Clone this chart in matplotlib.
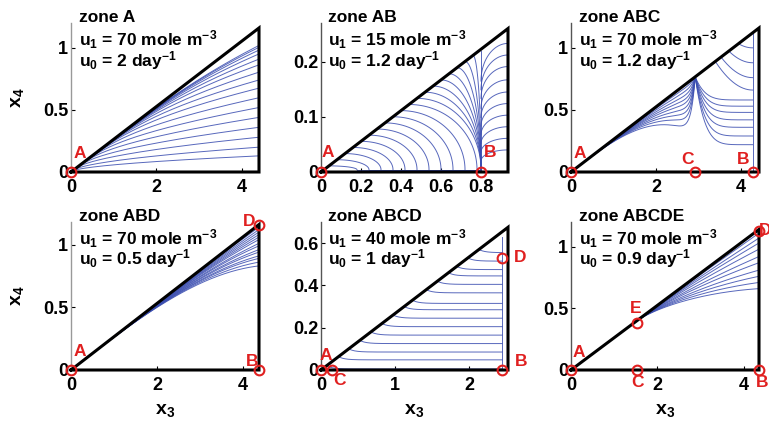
import numpy as np
import matplotlib
matplotlib.use("Agg")
import matplotlib.pyplot as plt

plt.rcParams['font.family'] = ['Liberation Sans', 'DejaVu Sans']
plt.rcParams['mathtext.fontset'] = 'custom'
plt.rcParams['mathtext.rm'] = 'Liberation Sans:bold'
plt.rcParams['mathtext.it'] = 'Liberation Sans:italic:bold'
plt.rcParams['mathtext.bf'] = 'Liberation Sans:bold'

# ---- panel data ----
zones = ["zone A", "zone AB", "zone ABC", "zone ABD", "zone ABCD", "zone ABCDE"]
u1_vals = ["70", "15", "70", "70", "40", "70"]
u0_vals = ["2", "1.2", "1.2", "0.5", "1", "0.9"]

# triangle corner (x3 max, x4 max) per panel
tri_x = [4.4, 0.935, 4.42, 4.37, 2.52, 4.35]
tri_y = [1.16, 0.26, 1.16, 1.16, 0.675, 1.14]

xticks = [[0, 2, 4], [0, 0.2, 0.4, 0.6, 0.8], [0, 2, 4], [0, 2, 4], [0, 1, 2], [0, 2, 4]]
xticklabels = [["0", "2", "4"], ["0", "0.2", "0.4", "0.6", "0.8"], ["0", "2", "4"],
               ["0", "2", "4"], ["0", "1", "2"], ["0", "2", "4"]]
yticks = [[0, 0.5, 1], [0, 0.1, 0.2], [0, 0.5, 1], [0, 0.5, 1], [0, 0.2, 0.4, 0.6], [0, 0.5, 1]]
yticklabels = [["0", "0.5", "1"], ["0", "0.1", "0.2"], ["0", "0.5", "1"],
               ["0", "0.5", "1"], ["0", "0.2", "0.4", "0.6"], ["0", "0.5", "1"]]
ylims = [1.2, 0.27, 1.2, 1.18, 0.70, 1.2]

# equilibrium points: (x, y, label, label_x, label_y)
points = [
    [(0, 0, "A", 0.2, 0.15)],
    [(0, 0, "A", 0.035, 0.035), (0.8, 0, "B", 0.845, 0.035)],
    [(0, 0, "A", 0.2, 0.15), (2.92, 0, "C", 2.75, 0.1), (4.27, 0, "B", 4.05, 0.1)],
    [(0, 0, "A", 0.2, 0.15), (4.37, 1.16, "D", 4.15, 1.18), (4.37, 0, "B", 4.2, 0.07)],
    [(0, 0, "A", 0.06, 0.07), (0.15, 0, "C", 0.25, -0.05),
     (2.44, 0.53, "D", 2.68, 0.53), (2.44, 0, "B", 2.7, 0.04)],
    [(0, 0, "A", 0.18, 0.14), (1.53, 0.38, "E", 1.5, 0.5), (1.53, 0, "C", 1.55, -0.1),
     (4.35, 1.13, "D", 4.5, 1.13), (4.35, 0, "B", 4.43, -0.1)],
]

# trajectory end heights / start points
p1_end = [0.13, 0.20, 0.28, 0.36, 0.44, 0.52, 0.60, 0.68, 0.75, 0.82, 0.89, 0.95,
          1.01, 1.06, 1.10, 1.13]
p2_start = [0.04, 0.08, 0.12, 0.16, 0.20, 0.24, 0.28, 0.32, 0.36, 0.40, 0.44, 0.48,
            0.52, 0.56, 0.60, 0.64, 0.68, 0.72, 0.76]
p2_right = [0.04, 0.061, 0.082, 0.103, 0.124, 0.145, 0.167, 0.191, 0.212, 0.233]
p3_left = [0.40, 0.50, 0.58, 0.65, 0.72, 0.78, 0.84, 0.90, 0.95]
p3_right_low = [0.22, 0.29, 0.36, 0.42, 0.48, 0.53, 0.58]
p3_right_high = [0.66, 0.76, 0.88, 1.0]
p4_end = [1.14, 1.12, 1.10, 1.08, 1.06, 1.04, 1.01, 0.99, 0.96, 0.94, 0.91, 0.89, 0.86, 0.83]
p5_levels = [0.02, 0.063, 0.10, 0.14, 0.18, 0.22, 0.26, 0.30, 0.33, 0.38, 0.42, 0.46,
             0.49, 0.53, 0.57]
p6_end = [1.11, 1.07, 1.03, 0.98, 0.92, 0.87, 0.81, 0.76, 0.71, 0.66]

BLUE = '#3a4db0'
RED = '#e02020'
LW = 0.7

fig = plt.figure(figsize=(7.69, 4.24), dpi=100)
lefts = [71, 321, 571]
widths = [188, 187, 188]
axes = []
for r, (top, h) in enumerate([(23, 149), (222, 148)]):
    for c in range(3):
        ax = fig.add_axes([lefts[c] / 769, 1 - (top + h) / 424, widths[c] / 769, h / 424])
        axes.append(ax)


def softmin(a, b, n=6):
    a = np.maximum(a, 1e-9)
    b = np.maximum(b, 1e-9)
    return (a ** -n + b ** -n) ** (-1.0 / n)


def traj(ax, x, y):
    ax.plot(x, y, color=BLUE, lw=LW, alpha=0.85, zorder=2)


# panel 1: zone A
ax = axes[0]
X, H = tri_x[0], tri_y[0]
x = np.linspace(0.001, X, 300)
for h in p1_end:
    traj(ax, x, softmin(H / X * x, h * (x / X) ** 0.55))

# panel 2: zone AB
ax = axes[1]
X, H = tri_x[1], tri_y[1]
xB = 0.8
th = np.linspace(0, np.pi / 2, 100)
for x0 in p2_start:
    y0 = H / X * x0
    xe = min(xB, x0 + 0.12 + 0.5 * x0)
    ye = 0.004
    traj(ax, x0 + (xe - x0) * np.sin(th), ye + (y0 - ye) * np.cos(th))
    traj(ax, [xe, xB], [ye, ye])
for h in p2_right:
    dh = 0.25 * h + 0.01
    traj(ax, xB + (X - xB) * (1 - np.sin(th)), (h - dh) + dh * np.cos(th))
traj(ax, [xB, xB], [0, 0.22])

# panel 3: zone ABC
ax = axes[2]
X, H = tri_x[2], tri_y[2]
s = H / X
xC, xB = 2.92, 4.27
cy = s * xC
x = np.linspace(0, xC, 300)
t = x / xC
for rho in p3_left:
    traj(ax, x, s * x - s * x * (1 - rho) * t ** 2 + s * xC * (1 - rho) * t ** 30)
x = np.linspace(xC, xB, 300)
for h in p3_right_low:
    traj(ax, x, h + (cy - h) * ((xB - x) / (xB - xC)) ** 6)
for h in p3_right_high:
    y = h + 0.3 * (xB - x) ** 2
    keep = y <= s * x
    traj(ax, x[keep], y[keep])
traj(ax, [xB, xB], [0, s * xB])

# panel 4: zone ABD
ax = axes[3]
X, H = tri_x[3], tri_y[3]
x = np.linspace(0, X, 300)
for h in p4_end:
    traj(ax, x, H / X * x - (H - h) * (x / X) ** 3)
traj(ax, [X, X], [0, min(p4_end)])

# panel 5: zone ABCD
ax = axes[4]
X, H = tri_x[4], tri_y[4]
s = H / X
xD = 2.44
for lvl in p5_levels:
    x0 = lvl / s
    x = np.linspace(x0, xD, 200)
    traj(ax, x, lvl - 0.015 * (1 - np.exp(-(x - x0) / 0.08)))
traj(ax, [xD, xD], [0, 0.63])

# panel 6: zone ABCDE
ax = axes[5]
X, H = tri_x[5], tri_y[5]
xE = 1.53
x = np.linspace(xE, X, 300)
for h in p6_end:
    traj(ax, x, H / X * x - (H - h) * ((x - xE) / (X - xE)) ** 1.4)
traj(ax, [X, X], [0, min(p6_end)])

# common styling
for i, ax in enumerate(axes):
    X, H = tri_x[i], tri_y[i]
    ax.plot([0, X, X, 0], [0, H, 0, 0], color='black', lw=2.2, clip_on=False,
            solid_joinstyle='miter', zorder=3)
    for (px, py, lab, lx, ly) in points[i]:
        ax.plot(px, py, 'o', ms=7, mfc='none', mec=RED, mew=1.5, clip_on=False, zorder=4)
        ax.text(lx, ly, lab, color=RED, fontsize=12.5, fontweight='bold',
                ha='center', va='center', zorder=5)
    ax.set_xlim(0, X)
    ax.set_ylim(0, ylims[i])
    ax.set_xticks(xticks[i])
    ax.set_xticklabels(xticklabels[i], fontweight='bold')
    ax.set_yticks(yticks[i])
    ax.set_yticklabels(yticklabels[i], fontweight='bold')
    ax.tick_params(direction='in', length=3, labelsize=13)
    ax.tick_params(axis='x', pad=5)
    ax.tick_params(axis='y', pad=2)
    for sp in ['top', 'right', 'bottom']:
        ax.spines[sp].set_visible(False)
    ax.spines['left'].set_color('#999999' if i % 3 == 0 else '#555555')
    ax.spines['left'].set_linewidth(1.0)
    ax.text(0.04, 1.04, zones[i], transform=ax.transAxes, fontsize=12.5,
            fontweight='bold', va='center')
    ax.text(0.04, 0.89, r'u$_1$ = ' + u1_vals[i] + r' mole m$^{-3}$',
            transform=ax.transAxes, fontsize=12.5, fontweight='bold', va='center')
    ax.text(0.04, 0.75, r'u$_0$ = ' + u0_vals[i] + r' day$^{-1}$',
            transform=ax.transAxes, fontsize=12.5, fontweight='bold', va='center')
    if i % 3 == 0:
        ax.set_ylabel(r'x$_4$', fontsize=14, fontweight='bold', labelpad=12)
    if i >= 3:
        ax.set_xlabel(r'x$_3$', fontsize=14, fontweight='bold', labelpad=6)

fig.savefig("out.png", dpi=100)
